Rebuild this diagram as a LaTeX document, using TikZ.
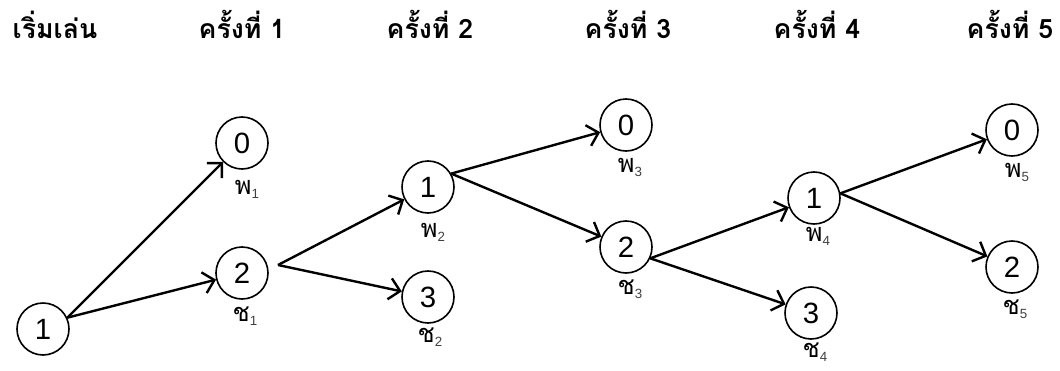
\documentclass[tikz,border=0pt]{standalone}
\usepackage{fontspec}
\setmainfont{Liberation Sans}
\newfontfamily\thaifont[Script=Thai]{Loma}
\usetikzlibrary{arrows.meta}

\newcommand{\turnlbl}[2]{{\thaifont #1}\raisebox{-0.3ex}{\fontsize{10}{10}\selectfont\color{black!75}#2}}

\begin{document}
\begin{tikzpicture}[x=0.75pt,y=-0.75pt,
  state/.style={draw,circle,line width=1.2pt,minimum size=39pt,inner sep=0pt,font=\fontsize{22}{22}\selectfont},
  move/.style={line width=1.8pt,-{Straight Barb[length=8pt,width=16pt,line width=1.8pt]}},
  head/.style={anchor=base,font=\thaifont\bfseries\fontsize{20}{20}\selectfont},
  lbl/.style={inner sep=0pt,font=\fontsize{19}{19}\selectfont}]
\useasboundingbox (0,0) rectangle (1060,371);
% headings
\node[head,anchor=base west] (h0) at (8,38) {เริ่มเล่น};
\node[head] (h1) at (242,38) {ครั้งที่ 1};
\node[head] (h2) at (430,38) {ครั้งที่ 2};
\node[head] (h3) at (628,38) {ครั้งที่ 3};
\node[head] (h4) at (817,38) {ครั้งที่ 4};
\node[head,anchor=base east] (h5) at (1058,38) {ครั้งที่ 5};
% states
\node[state] (s) at (43,329) {1};
\node[state] (p1) at (242,143) {0};
\node[state] (c1) at (242,273) {2};
\node[state] (p2) at (428,187) {1};
\node[state] (c2) at (428,297) {3};
\node[state] (p3) at (626,125) {0};
\node[state] (c3) at (626,247) {2};
\node[state] (p4) at (814,198) {1};
\node[state] (c4) at (811,313) {3};
\node[state] (p5) at (1012,130) {0};
\node[state] (c5) at (1012,267) {2};
% labels
\node[lbl] (p1l) at (247,189) {\turnlbl{พ}{1}};
\node[lbl] (c1l) at (245,316) {\turnlbl{ช}{1}};
\node[lbl] (p2l) at (433,232) {\turnlbl{พ}{2}};
\node[lbl] (c2l) at (430,337) {\turnlbl{ช}{2}};
\node[lbl] (p3l) at (630,167) {\turnlbl{พ}{3}};
\node[lbl] (c3l) at (630,289) {\turnlbl{ช}{3}};
\node[lbl] (p4l) at (818,236) {\turnlbl{พ}{4}};
\node[lbl] (c4l) at (815,352) {\turnlbl{ช}{4}};
\node[lbl] (p5l) at (1017,172) {\turnlbl{พ}{5}};
\node[lbl] (c5l) at (1015,309) {\turnlbl{ช}{5}};
% moves
\coordinate (c1o) at (278,265);
\draw[move] (s.25) -- (p1);
\draw[move] (s.25) -- (c1);
\draw[move] (c1o) -- (p2);
\draw[move] (c1o) -- (c2);
\draw[move] (p2.30) -- (p3);
\draw[move] (p2.30) -- (c3);
\draw[move] (c3.-25) -- (p4);
\draw[move] (c3.-25) -- (c4);
\draw[move] (p4.10) -- (p5);
\draw[move] (p4.10) -- (c5);
\end{tikzpicture}
\end{document}
